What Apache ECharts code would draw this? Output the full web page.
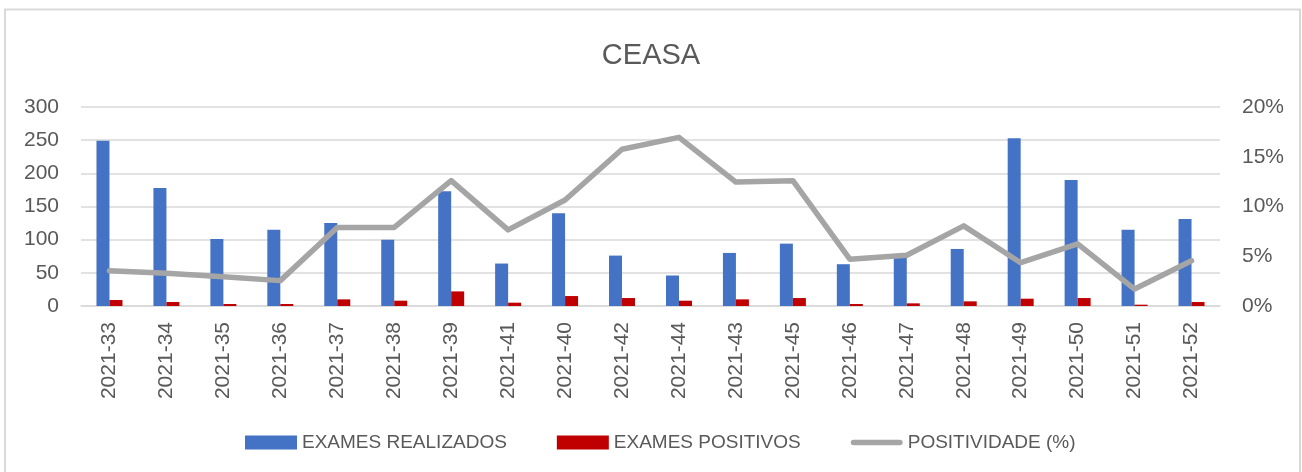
<!DOCTYPE html>
<html>
<head>
<meta charset="utf-8">
<script src="https://cdn.jsdelivr.net/npm/echarts@6/dist/echarts.min.js"></script>
<style>
html,body{margin:0;padding:0;background:#fff;}
#chart{width:1302px;height:472px;}
</style>
</head>
<body>
<div id="chart"></div>
<script>
const categories = ['2021-33','2021-34','2021-35','2021-36','2021-37','2021-38','2021-39','2021-41','2021-40','2021-42','2021-44','2021-43','2021-45','2021-46','2021-47','2021-48','2021-49','2021-50','2021-51','2021-52'];
const examesRealizados = [249, 178, 101, 115, 125, 100, 173, 64, 140, 76, 46, 80, 94, 63, 75, 86, 253, 190, 115, 131];
const examesPositivos = [9, 6, 3, 3, 10, 8, 22, 5, 15, 12, 8, 10, 12, 3, 4, 7, 11, 12, 2, 6];
const positividade = [3.55, 3.3, 2.95, 2.55, 7.9, 7.9, 12.6, 7.65, 10.65, 15.75, 16.95, 12.45, 12.6, 4.7, 5.1, 8.05, 4.35, 6.25, 1.7, 4.55];
const leftTicks = [0, 300, 50];
const rightTicks = [0, 20, 5];

const FONT = 'Liberation Sans';
const TXT = '#595959';
const LINE_ICON = 'path://M0,0 M0,14 M3,4.2 L49,4.2 Q52,4.2 52,7 Q52,9.8 49,9.8 L3,9.8 Q0,9.8 0,7 Q0,4.2 3,4.2 Z';
const chart = echarts.init(document.getElementById('chart'), null, {renderer: 'canvas'});
chart.setOption({
  animation: false,
  backgroundColor: '#fff',
  title: {
    text: 'CEASA', left: 'center', top: 36,
    textStyle: {fontFamily: FONT, fontSize: 29, fontWeight: 'normal', color: TXT}
  },
  graphic: [{
    type: 'rect', silent: true, z: -1,
    shape: {x: 5, y: 9.5, width: 1295, height: 470},
    style: {fill: 'none', stroke: '#d9d9d9', lineWidth: 2}
  }],
  legend: {
    left: 240, top: 428,
    itemWidth: 52, itemHeight: 14, itemGap: 50,
    textStyle: {fontFamily: FONT, fontSize: 19, color: TXT},
    data: [
      {name: 'EXAMES REALIZADOS', icon: 'rect'},
      {name: 'EXAMES POSITIVOS', icon: 'rect'},
      {name: 'POSITIVIDADE (%)', icon: LINE_ICON, itemStyle: {color: '#a5a5a5'}}
    ]
  },
  grid: {left: 81, right: 82, top: 107, bottom: 166, containLabel: false},
  xAxis: {
    type: 'category', data: categories,
    axisLine: {show: true, lineStyle: {color: '#d9d9d9', width: 1.5}},
    axisTick: {show: false},
    axisLabel: {rotate: 90, margin: 16, fontFamily: FONT, fontSize: 21, color: TXT, interval: 0}
  },
  yAxis: [{
    type: 'value', min: leftTicks[0], max: leftTicks[1], interval: leftTicks[2],
    axisLine: {show: false}, axisTick: {show: false},
    splitLine: {lineStyle: {color: '#d9d9d9', width: 1.5}},
    axisLabel: {margin: 22, fontFamily: FONT, fontSize: 21, color: TXT}
  }, {
    type: 'value', min: rightTicks[0], max: rightTicks[1], interval: rightTicks[2],
    axisLine: {show: false}, axisTick: {show: false},
    splitLine: {show: false},
    axisLabel: {margin: 22, fontFamily: FONT, fontSize: 21, color: TXT, formatter: '{value}%'}
  }],
  series: [{
    name: 'EXAMES REALIZADOS', type: 'bar', data: examesRealizados,
    barWidth: 13, barGap: '0%',
    itemStyle: {color: '#4472c4'}
  }, {
    name: 'EXAMES POSITIVOS', type: 'bar', data: examesPositivos,
    barWidth: 13, barGap: '0%',
    itemStyle: {color: '#c00000'}
  }, {
    name: 'POSITIVIDADE (%)', type: 'line', yAxisIndex: 1, data: positividade,
    symbol: 'none',
    lineStyle: {color: '#a5a5a5', width: 5.5, join: 'round', cap: 'round'},
    itemStyle: {color: '#a5a5a5'}
  }]
});
</script>
</body>
</html>
